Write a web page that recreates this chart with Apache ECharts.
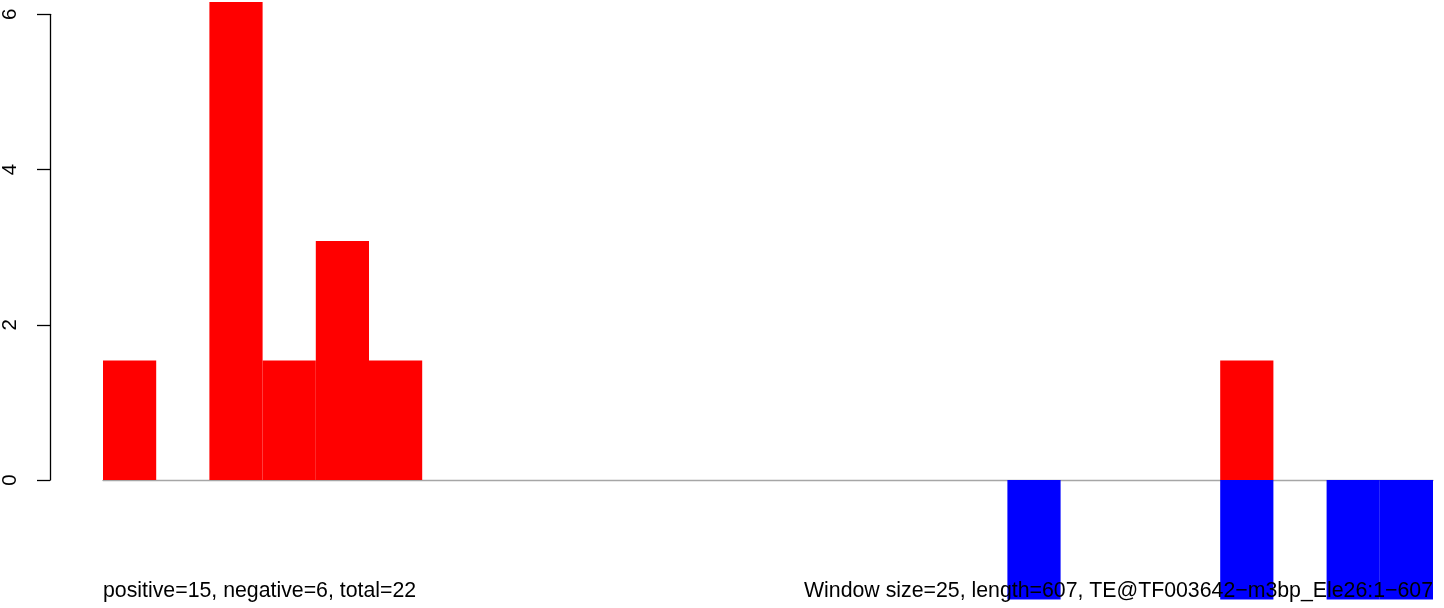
<!DOCTYPE html>
<html>
<head>
<meta charset="utf-8">
<script src="https://cdn.jsdelivr.net/npm/echarts@6/dist/echarts.min.js"></script>
<style>
html,body{margin:0;padding:0;background:#fff;}
#main{width:1444px;height:608px;}
</style>
</head>
<body>
<div id="main"></div>
<script>
// 窗口 (25 windows)
let windows = [];
for (let i = 1; i <= 25; i++) windows.push('w' + i);
let posValues = [1.54, 0, 6.16, 1.54, 3.08, 1.54, 0, 0, 0, 0, 0, 0, 0, 0, 0, 0, 0, 0, 0, 0, 0, 1.54, 0, 0, 0];
let negValues = [0, 0, 0, 0, 0, 0, 0, 0, 0, 0, 0, 0, 0, 0, 0, 0, 0, -1.54, 0, 0, 0, -1.54, 0, -1.54, -1.54];
let yTicks = [0, 2, 4, 6];
let leftNote = 'positive=15, negative=6, total=22';
let rightNote = 'Window size=25, length=607, TE@TF003642\u2212m3bp_Ele26:1\u2212607';

// scale: 0 at y=480, 6 at y=14.3
let pxPerUnit = (480 - 14.3) / 6;
let fontFam = '"Liberation Sans", Arial, sans-serif';
// empty windows draw nothing
let dropZero = v => (v === 0 ? '-' : v);

let chart = echarts.init(document.getElementById('main'));
let option = {
    animation: false,
    backgroundColor: '#ffffff',
    title: [{
        text: leftNote,
        left: 103,
        top: 581,
        padding: 0,
        textStyle: {color: '#000', fontWeight: 'normal', fontSize: 21.3, fontFamily: fontFam}
    }, {
        text: rightNote,
        right: 11,
        top: 581,
        padding: 0,
        textStyle: {color: '#000', fontWeight: 'normal', fontSize: 21.3, fontFamily: fontFam}
    }],
    grid: [
        {left: 50, top: 14.3, width: 1, height: 480 - 14.3},
        {left: 103, right: 11, top: 0, height: 608}
    ],
    xAxis: [
        {gridIndex: 0, type: 'value', show: false, min: 0, max: 1},
        {
            gridIndex: 1,
            type: 'category',
            data: windows,
            boundaryGap: true,
            axisLine: {show: true, onZero: true, lineStyle: {color: '#a6a6a6', width: 1.4}},
            axisTick: {show: false},
            axisLabel: {show: false},
            splitLine: {show: false}
        }
    ],
    yAxis: [
        {
            gridIndex: 0,
            type: 'value',
            min: yTicks[0],
            max: yTicks[yTicks.length - 1],
            interval: 2,
            axisLine: {show: true, lineStyle: {color: '#000', width: 1.3}},
            axisTick: {show: true, length: 13, lineStyle: {color: '#000', width: 1.3}},
            axisLabel: {show: true, rotate: 90, margin: 29, color: '#000', fontSize: 20.5, fontFamily: fontFam},
            splitLine: {show: false}
        },
        {
            gridIndex: 1,
            type: 'value',
            min: -128 / pxPerUnit,
            max: 480 / pxPerUnit,
            show: false,
            splitLine: {show: false}
        }
    ],
    series: [{
        name: 'positive',
        type: 'bar',
        xAxisIndex: 1,
        yAxisIndex: 1,
        data: posValues.map(dropZero),
        barWidth: '100%',
        barGap: '-100%',
        itemStyle: {color: '#ff0000', borderColor: '#ff0000', borderWidth: 1.6}
    }, {
        name: 'negative',
        type: 'bar',
        xAxisIndex: 1,
        yAxisIndex: 1,
        data: negValues.map(dropZero),
        barWidth: '100%',
        barGap: '-100%',
        itemStyle: {color: '#0000ff', borderColor: '#0000ff', borderWidth: 1.6}
    }]
};
chart.setOption(option);
</script>
</body>
</html>
